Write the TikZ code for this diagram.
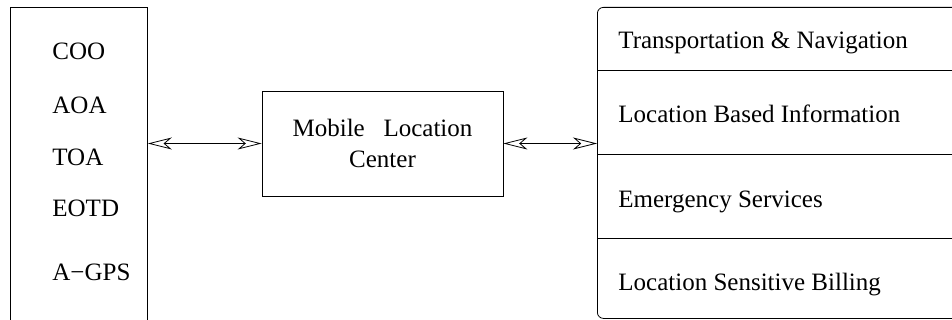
\documentclass[tikz,border=0pt]{standalone}
\usepackage{fontspec}
\setmainfont{Liberation Serif}
\usetikzlibrary{arrows.meta,positioning}
\tikzstyle{every node}=[font=\fontsize{12.5}{15.5}\selectfont]
\tikzstyle{item}=[anchor=base west,inner sep=0pt]
\tikzstyle{link}=[thin,{Stealth[open,length=12pt,width=6pt,inset=3.5pt]}-{Stealth[open,length=12pt,width=6pt,inset=3.5pt]}]

\begin{document}
\begin{tikzpicture}[x=0.5pt,y=-0.5pt,thin]
  \useasboundingbox (0,0) rectangle (952,320);
  \node[draw,anchor=north west,minimum width=68.5pt,minimum height=161.5pt,inner sep=0pt] (tech) at (10,7) {};
  \node[item] (coo) at (52,60) {COO};
  \node[item] (aoa) at (52,114) {AOA};
  \node[item] (toa) at (52,166) {TOA};
  \node[item] (eotd) at (52,217) {EOTD};
  \node[item] (agps) at (52,280) {A−GPS};
  \node[draw,align=center,minimum width=120.5pt,minimum height=52.5pt,inner sep=0pt] (mlc) at (382.5,143.5) {Mobile\ \ \ Location\\Center};
  \node[draw,rounded corners=3pt,anchor=north west,minimum width=191.5pt,minimum height=155.5pt,inner sep=0pt] (svc) at (597,7) {};
  \node[item] (nav) at (618,49) {Transportation \& Navigation};
  \node[item] (info) at (618,123) {Location Based Information};
  \node[item] (emg) at (618,207) {Emergency Services};
  \node[item] (bill) at (618,290) {Location Sensitive Billing};
  \coordinate (d1) at (597,70);
  \coordinate (d2) at (597,154);
  \coordinate (d3) at (597,238);
  \foreach \d in {d1,d2,d3}
    \draw (\d) -- (\d -| svc.east);
  \draw[link] (tech.east |- mlc) -- (mlc.west);
  \draw[link] (mlc.east) -- (svc.west |- mlc);
\end{tikzpicture}
\end{document}
